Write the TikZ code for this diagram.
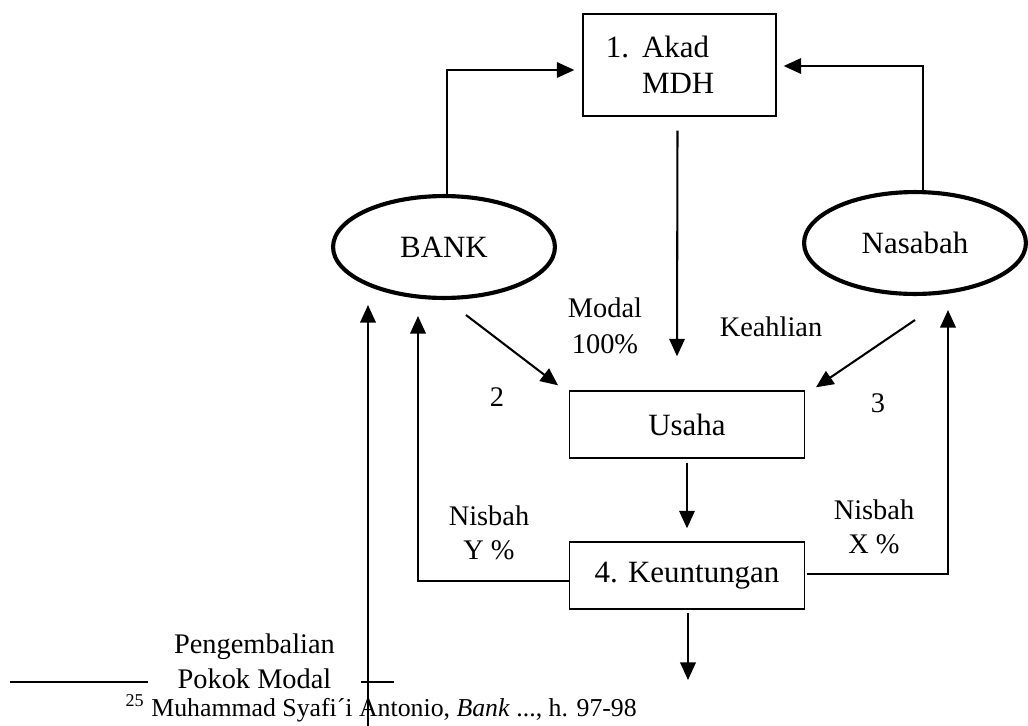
\documentclass[tikz,border=0pt]{standalone}
\usepackage{fontspec}
\setmainfont{Liberation Serif}
\usetikzlibrary{arrows.meta, calc, shapes.geometric}

\begin{document}
\begin{tikzpicture}[
    x=0.3876pt, y=-0.3876pt,
    block/.style={draw, line width=0.5pt, inner sep=0pt,
        font=\fontsize{12}{14}\selectfont},
    party/.style={draw, ellipse, line width=1.6pt, inner sep=0pt,
        minimum width=86pt, minimum height=39.5pt,
        font=\fontsize{12}{14}\selectfont},
    arr/.style={-{Triangle[length=6.8pt, width=6pt]}, line width=0.8pt},
    lbl/.style={font=\fontsize{11}{14}\selectfont, align=center, inner sep=0pt},
]
\useasboundingbox (0,0) rectangle (1028,726);

% ---- Contract and parties ----
\node[block, minimum width=74.8pt, minimum height=39.5pt,
    text width=57pt, align=left] (akad) at (679.5,65)
    {\makebox[14pt][l]{1.}Akad\\\hspace*{14pt}MDH};
\node[party] (bank) at (444,247) {BANK};
\node[party] (nasabah) at (915,243) {Nasabah};

% ---- Business and profit ----
\node[block, minimum width=90.9pt, minimum height=26pt] (usaha)
    at (687,424.5) {Usaha};
\node[block, minimum width=90.9pt, minimum height=26pt] (untung)
    at (687,575.5) {4. Keuntungan};

% ---- Contract arrows ----
\draw[arr] ($(bank.north)+(3,0)$) |- ($(akad.west)+(-8,5)$);
\draw[arr] ($(nasabah.north)+(8,0)$) |- ($(akad.east)+(7,1)$);
\draw[arr] ($(akad.south)+(-2,14)$) -- ($(usaha.north)+(-10,-34)$);

% ---- Capital and skill into the business ----
\draw[arr] ($(bank.south)+(22,15)$) -- ($(usaha.north west)+(-11,-5)$);
\draw[arr] ($(nasabah.south)+(0,24)$) -- ($(usaha.north east)+(11,-3)$);
\node[lbl] (modal) at (605,326) {Modal\\100\%};
\node[lbl] (keahlian) at (771,327) {Keahlian};
\node[lbl] (two) at (497,397) {2};
\node[lbl] (three) at (878,403) {3};

% ---- Profit sharing ----
\draw[arr] ($(usaha.south)+(0,4)$) -- ($(untung.north)+(0,-13)$);
\coordinate (out) at (688,680);
\draw[arr] ($(untung.south)+(1,3)$) -- (out);
\draw[arr] ($(untung.west)+(0,5.5)$) -| ($(bank.south)+(-26,16)$);
\draw[arr] ($(untung.east)+(2.5,-1.5)$) -| ($(nasabah.south)+(33,14)$);
\node[lbl, font=\fontsize{11}{13.2}\selectfont] (nisbahy) at (489,533)
    {Nisbah\\Y \%};
\node[lbl, font=\fontsize{11}{13.2}\selectfont] (nisbahx) at (874,526.5)
    {Nisbah\\X \%};

% ---- Return of capital, footnote ----
\coordinate (ruleL) at (10,682);
\coordinate (ruleR) at (394,682);
\draw[line width=0.7pt] (ruleL) -- (ruleR);
\node[lbl, fill=white, minimum width=82.6pt, inner ysep=2pt,
    font=\fontsize{11}{13.5}\selectfont] (kembali) at (254.5,661)
    {Pengembalian\\Pokok Modal};
\node[anchor=base west, inner sep=0pt, font=\fontsize{10}{12}\selectfont]
    (ref) at (125,716)
    {\textsuperscript{25} Muhammad Syafi´i Antonio, \textit{Bank} ..., h. 97-98};
\coordinate (retbase) at (368,726);
\draw[arr] (retbase) -- ($(bank.south)+(-76,5)$);

\end{tikzpicture}
\end{document}
